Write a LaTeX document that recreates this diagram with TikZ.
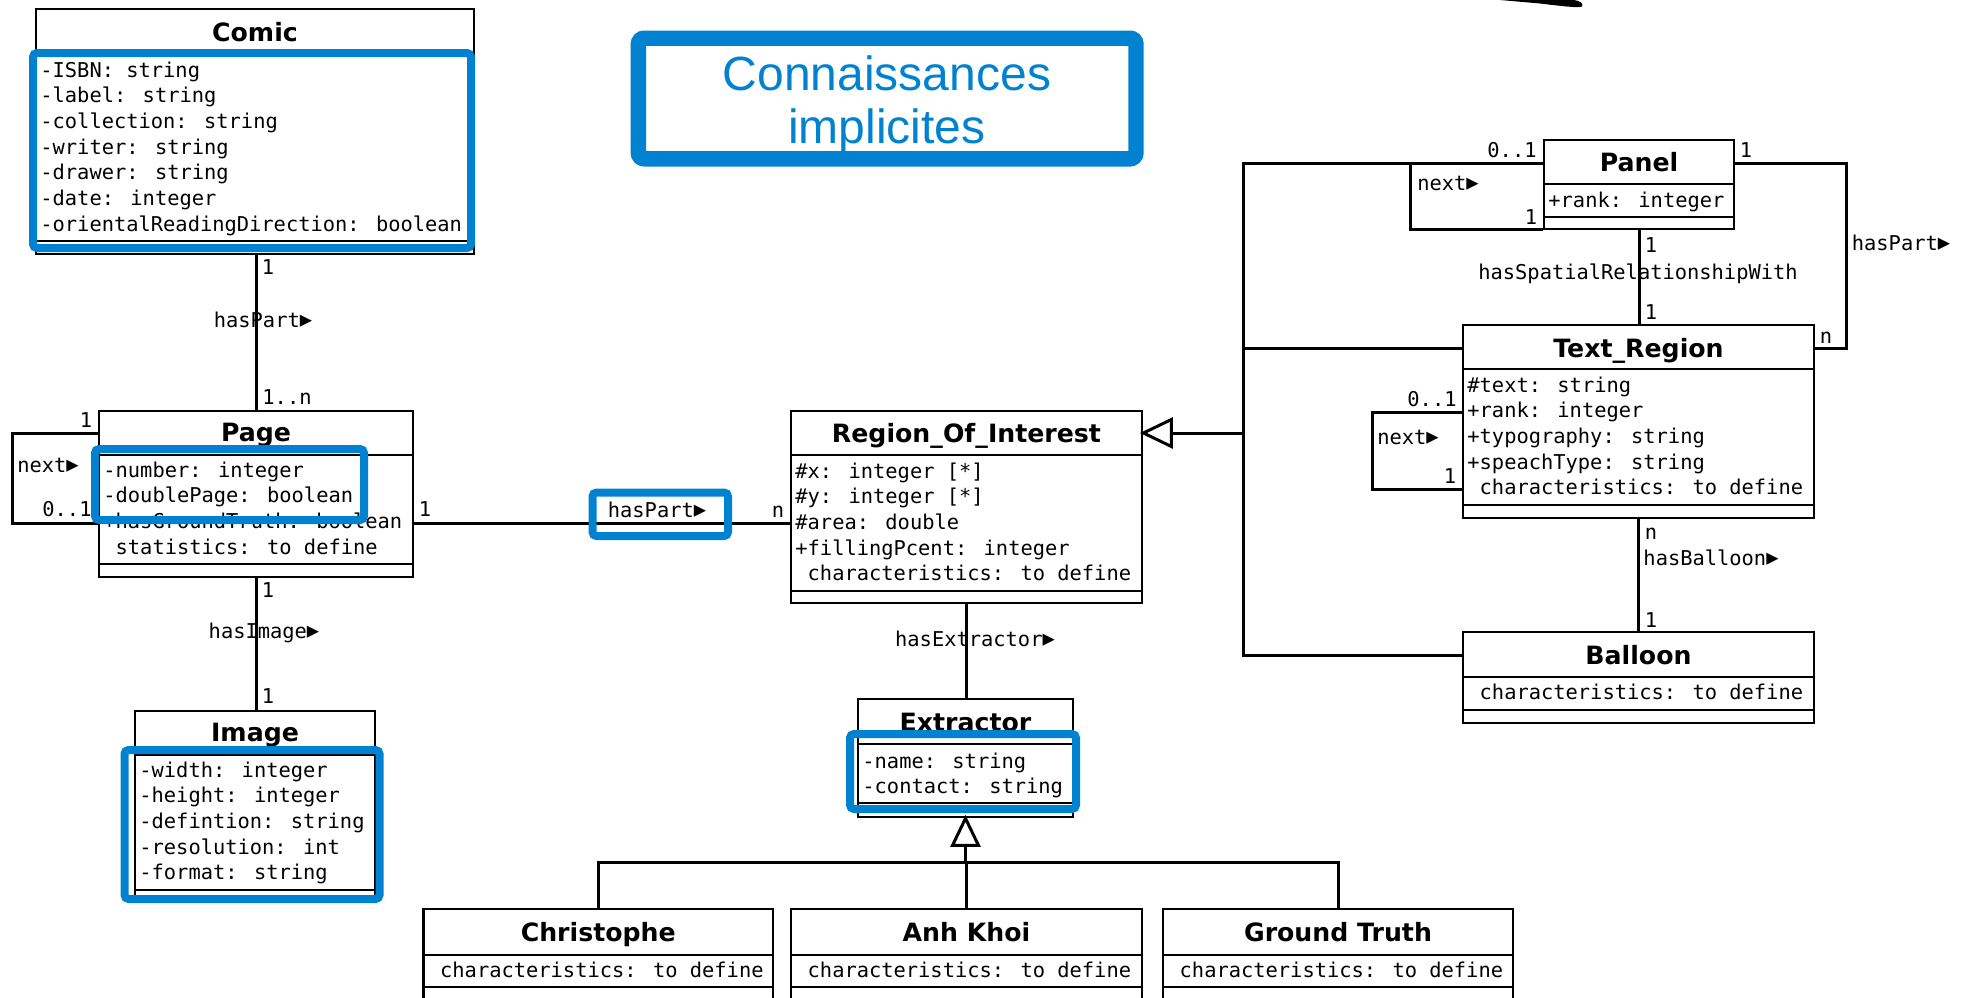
\documentclass[tikz,border=0pt]{standalone}
\usepackage{fontspec}
\usetikzlibrary{fit}
\newfontfamily\monof{DejaVu Sans Mono}
\newfontfamily\headf{DejaVu Sans}
\newfontfamily\notef{Liberation Sans}
\definecolor{hlblue}{RGB}{0,130,208}

% reading-direction marker after an association name
\newcommand\rdir{\makebox[0.602em][l]{\raisebox{0.02em}{\scalebox{1.0}{▶}}}}

% a UML class: name, left, top, right, bottom, first separator, second separator, title, title baseline
\newcommand\umlclass[9]{%
  \node[classbox, fit={(#2,#3) (#4,#5)}] (#1) {};
  \draw[sepline] (#2,#6) -- (#4,#6);
  \draw[sepline] (#2,#7) -- (#4,#7);
  \node[ctitle] (#1-t) at ({(#2+#4)/2},#9) {#8};
}
% attribute lines of a class: prefix, x, first baseline, list
\newcommand\attrlist[4]{%
  \foreach \txt [count=\k from 0] in {#4} {
    \node[attr] (#1-a\k) at (#2,{#3+25.7*\k}) {\txt};
  }
}

\begin{document}
\begin{tikzpicture}[x=0.5pt,y=-0.5pt,
  classbox/.style={draw, line width=1.4pt, inner sep=0pt},
  sepline/.style={line width=1.3pt},
  ctitle/.style={font=\headf\bfseries\fontsize{12.6}{15}\selectfont, inner sep=0pt, anchor=base},
  attr/.style={font=\monof\fontsize{10.2}{12}\selectfont, inner sep=0pt, anchor=base west},
  lbl/.style={font=\monof\fontsize{10.2}{12}\selectfont, inner sep=0pt, anchor=base},
  conn/.style={line width=1.5pt},
  hilite/.style={draw=hlblue, line width=4pt, rounded corners=2pt, inner sep=0pt},
  notebox/.style={draw=hlblue, line width=7.7pt, rounded corners=3pt, inner sep=0pt},
  notetext/.style={font=\notef\fontsize{24}{28}\selectfont, text=hlblue, anchor=base, inner sep=0pt}]

\useasboundingbox (0,0) rectangle (1965,997);
\clip (0,0) rectangle (1965,997);

% ---------- classes ----------
\umlclass{comic}{36}{9}{474}{254}{52}{241}{Comic}{41}
\attrlist{comic}{40}{77}{{-ISBN: string},{-label: string},{-collection: string},{-writer: string},{-drawer: string},{-date: integer},{-orientalReadingDirection: boolean}}

\umlclass{page}{99}{411}{413}{577}{455}{564}{Page}{441}
\attrlist{page}{103}{477}{{-number: integer},{-doublePage: boolean},{+hasGroundTruth: boolean},{~statistics: to define}}

\umlclass{image}{135}{711}{375}{902}{755}{890}{Image}{741}
\attrlist{image}{139}{777}{{-width: integer},{-height: integer},{-defintion: string},{-resolution: int},{-format: string}}

\umlclass{roi}{791}{411}{1142}{603}{455}{591}{Region\_Of\_Interest}{442}
\attrlist{roi}{795}{478}{{\#x: integer [*]},{\#y: integer [*]},{\#area: double},{+fillingPcent: integer},{~characteristics: to define}}

\umlclass{extr}{858}{699}{1073}{817}{744}{803}{Extractor}{731}
\attrlist{extr}{862}{768}{{-name: string},{-contact: string}}

\umlclass{chris}{423.5}{909}{773}{1003}{955}{987}{Christophe}{941}
\attrlist{chris}{427.5}{977}{{~characteristics: to define}}
\umlclass{anh}{791}{909}{1142}{1003}{955}{987}{Anh Khoi}{941}
\attrlist{anh}{795}{977}{{~characteristics: to define}}
\umlclass{gt}{1163}{909}{1513}{1003}{955}{987}{Ground Truth}{941}
\attrlist{gt}{1167}{977}{{~characteristics: to define}}

\umlclass{panel}{1544}{140}{1734}{229}{184}{217}{Panel}{171}
\attrlist{panel}{1548}{207}{{+rank: integer}}

\umlclass{treg}{1463}{325}{1814}{518}{369}{505}{Text\_Region}{357}
\attrlist{treg}{1467}{392}{{\#text: string},{+rank: integer},{+typography: string},{+speachType: string},{~characteristics: to define}}

\umlclass{balloon}{1463}{632}{1814}{723}{677}{710}{Balloon}{664}
\attrlist{balloon}{1467}{699}{{~characteristics: to define}}

% ---------- associations ----------
\draw[conn] (comic.south -| page.north) -- (page.north);
\draw[conn] (page.west |- 0,433) -- (12,433) -- (12,523) -- (page.west |- 0,523);
\draw[conn] (page.east |- 0,523) -- (roi.west |- 0,523);
\draw[conn] (page.south) -- (page.south |- image.north);
\draw[conn] (roi.south) -- (roi.south |- extr.north);

\draw[conn] (panel.west |- 0,163) -- (1410,163) -- (1410,229) -- (panel.west |- 0,229);
\draw[conn] (panel.east |- 0,163) -- (1846,163) -- (1846,348) -- (treg.east |- 0,348);
\draw[conn] (panel.south) -- (panel.south |- treg.north);
\draw[conn] (treg.west |- 0,412) -- (1372,412) -- (1372,489) -- (treg.west |- 0,489);
\draw[conn] (treg.south) -- (treg.south |- balloon.north);

% ---------- generalizations ----------
\coordinate (exjoin) at (966,862);
\draw[conn, fill=white] (extr.south) -- ++(-13,27) -- ++(26,0) -- cycle;
\draw[conn] (extr.south) ++(0,27) -- (extr.south |- exjoin);
\draw[conn] (chris.north) |- (exjoin) -| (gt.north);
\draw[conn] (anh.north) -- (anh.north |- exjoin);

\coordinate (rtip) at (roi.east |- 0,433);
\coordinate (bus) at (1243,433);
\draw[conn, fill=white] (rtip) -- ++(28,-13.5) -- ++(0,27) -- cycle;
\draw[conn] (rtip) ++(28,0) -- (bus);
\draw[conn] (panel.west |- 0,163) -| (1243,655) -- (balloon.west |- 0,655);
\draw[conn] (1243,348) -- (treg.west |- 0,348);

% ---------- association labels ----------
\node[lbl] (m1) at (268,274) {1};
\node[lbl] (r1) at (263,327) {hasPart\rdir};
\node[lbl] (m2) at (287,404) {1..n};
\node[lbl] (m3) at (86,427) {1};
\node[lbl] (r2) at (48,472) {next\rdir};
\node[lbl] (m4) at (67,516) {0..1};
\node[lbl] (m5) at (425,516) {1};
\node[lbl] (r3) at (657,517) {hasPart\rdir};
\node[lbl] (m6) at (778,517) {n};
\node[lbl] (m7) at (268,597) {1};
\node[lbl] (r4) at (264,638) {hasImage\rdir};
\node[lbl] (m8) at (268,703) {1};
\node[lbl] (r5) at (975,646) {hasExtractor\rdir};
\node[lbl] (m9) at (1512,157) {0..1};
\node[lbl] (r6) at (1448,190) {next\rdir};
\node[lbl] (m10) at (1531,224) {1};
\node[lbl] (m11) at (1746,157) {1};
\node[lbl] (r7) at (1901,250) {hasPart\rdir};
\node[lbl] (m12) at (1826,343) {n};
\node[lbl] (m13) at (1651,252) {1};
\node[lbl] (r8) at (1638,279) {hasSpatialRelationshipWith};
\node[lbl] (m14) at (1651,319) {1};
\node[lbl] (m15) at (1432,406) {0..1};
\node[lbl] (r9) at (1408,444) {next\rdir};
\node[lbl] (m16) at (1450,483) {1};
\node[lbl] (m17) at (1651,539) {n};
\node[lbl] (r10) at (1711,565) {hasBalloon\rdir};
\node[lbl] (m18) at (1651,627) {1};

% ---------- annotation ----------
\node[notebox, fit={(638.3,38.2) (1136,158.8)}] (note) {};
\node[notetext] (note-1) at (887,90) {Connaissances};
\node[notetext] (note-2) at (887,143) {implicites};

\node[hilite, fit={(33,53) (471,248)}] (hl-comic) {};
\node[hilite, fit={(95,449) (364,520)}] (hl-page) {};
\node[hilite, fit={(592.5,492.5) (728,536)}] (hl-haspart) {};
\node[hilite, fit={(124.5,750) (379.5,899)}] (hl-image) {};
\node[hilite, fit={(850,734) (1076,809)}] (hl-extr) {};

% pen stroke entering from the top edge
\fill (1500,0) -- (1574,0) .. controls (1580,1) and (1584,3.5) .. (1582,6.5)
  .. controls (1578,8) and (1565,6.5) .. (1540,3.5) -- cycle;
\end{tikzpicture}
\end{document}
